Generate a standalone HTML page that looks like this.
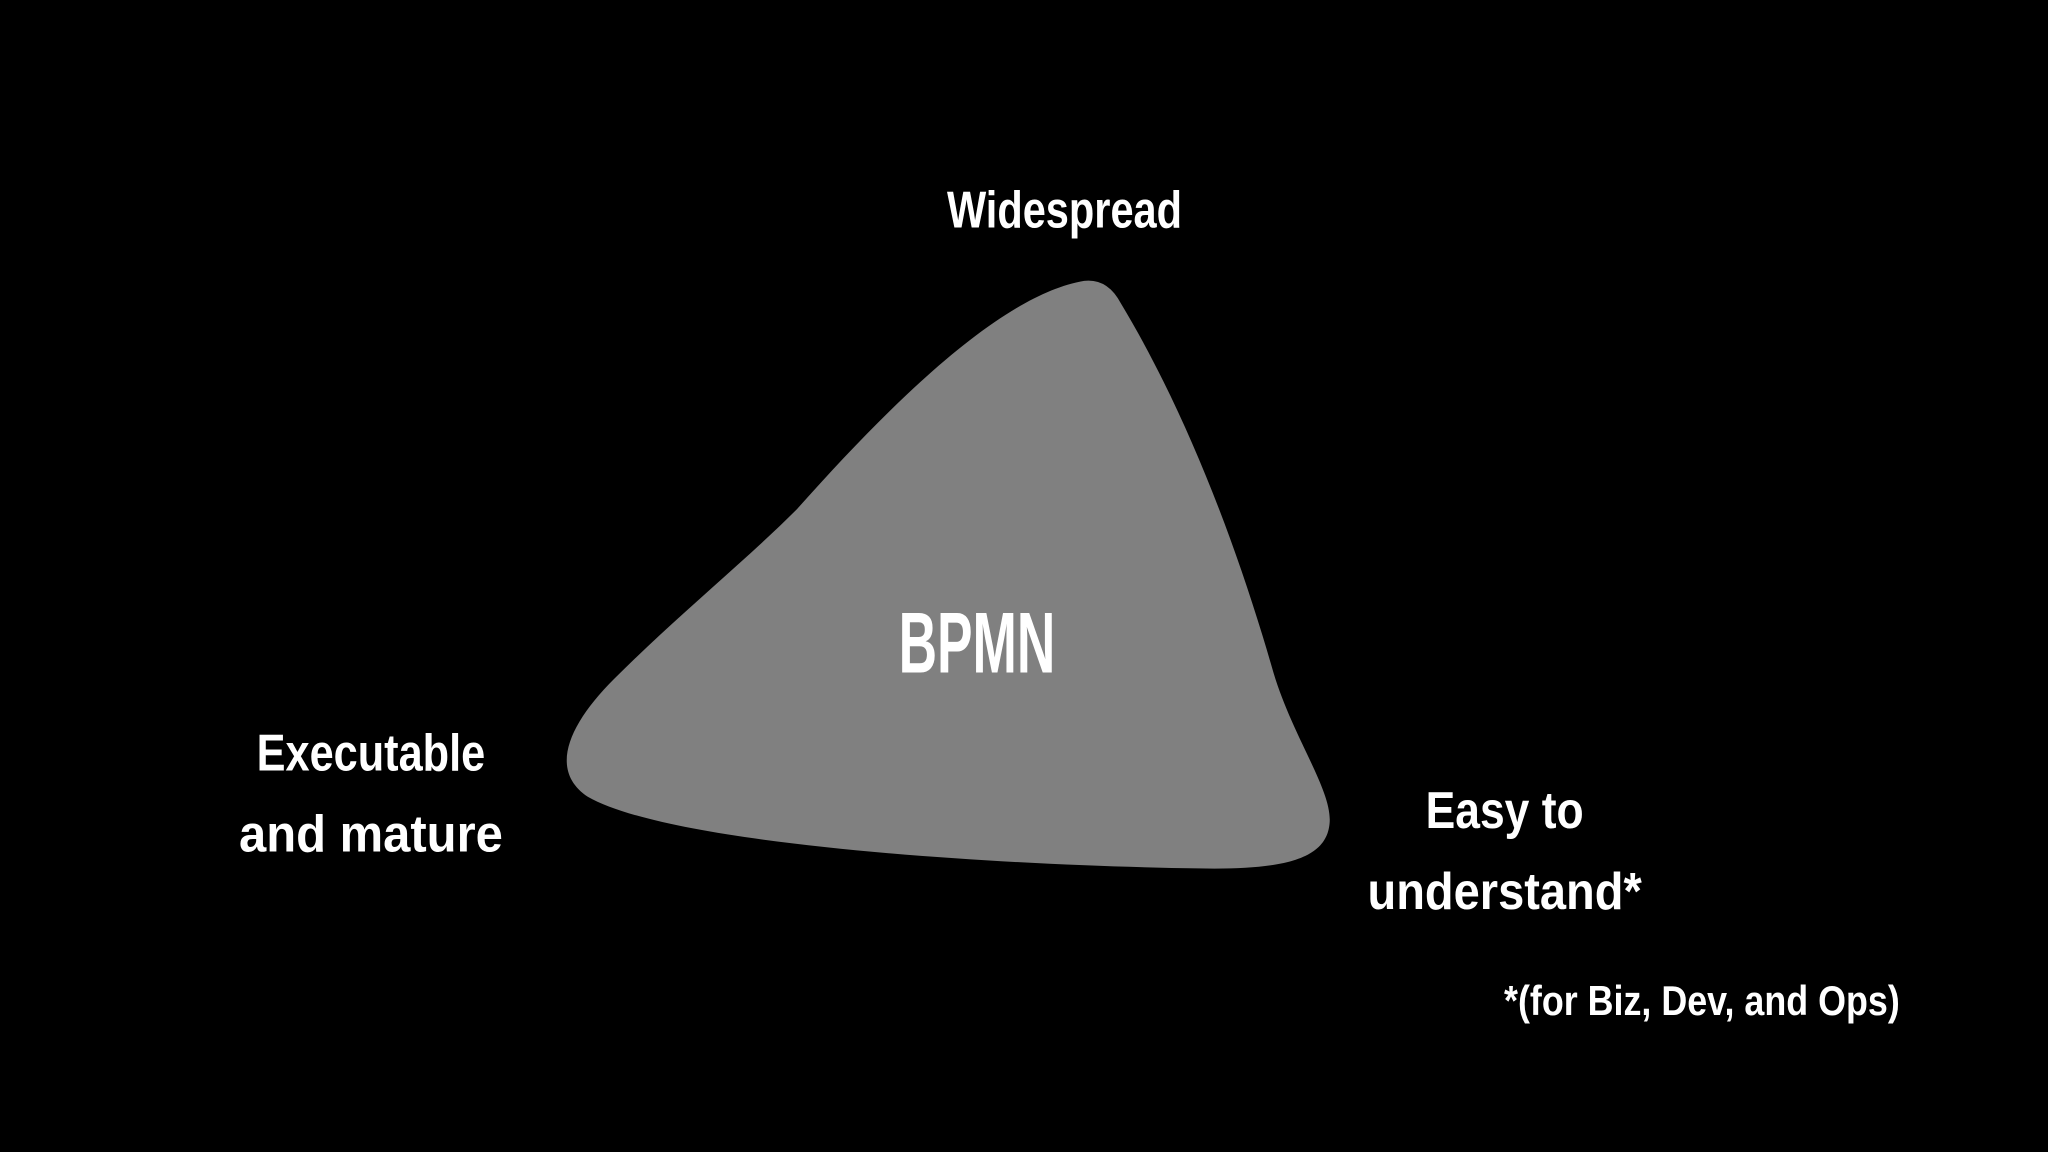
<!DOCTYPE html>
<html><head><meta charset="utf-8"><style>
html,body{margin:0;padding:0;background:#000;width:2048px;height:1152px;overflow:hidden}
svg{display:block}
text{font-family:"Liberation Sans",sans-serif;fill:#fff;font-weight:bold}
</style></head><body>
<svg width="2048" height="1152" viewBox="0 0 1568 882" xmlns="http://www.w3.org/2000/svg">
<rect width="1568" height="882" fill="#000"/>
<path d="M 858,232 C 905,310 945,410 975,515 C 990,565 1020,605 1018,630 C 1016,655 990,665 930,665 C 800,664 520,650 450,610 C 420,590 435,555 470,520 C 520,470 570,430 610,390 C 690,300 770,225 830,215 Q 848,213 858,232 Z" fill="#808080"/>
<text x="815" y="174" font-size="40" text-anchor="middle" textLength="180" lengthAdjust="spacingAndGlyphs">Widespread</text>
<text x="748" y="515" font-size="66" text-anchor="middle" textLength="120" lengthAdjust="spacingAndGlyphs" font-weight="normal">BPMN</text>
<text x="284" y="590" font-size="40" text-anchor="middle" textLength="175" lengthAdjust="spacingAndGlyphs">Executable</text>
<text x="284" y="652" font-size="40" text-anchor="middle" textLength="202" lengthAdjust="spacingAndGlyphs">and mature</text>
<text x="1152" y="634" font-size="40" text-anchor="middle" textLength="121" lengthAdjust="spacingAndGlyphs">Easy to</text>
<text x="1152" y="696" font-size="40" text-anchor="middle" textLength="210" lengthAdjust="spacingAndGlyphs">understand*</text>
<text x="1303" y="777" font-size="32" text-anchor="middle" textLength="303" lengthAdjust="spacingAndGlyphs" font-weight="normal">*(for Biz, Dev, and Ops)</text>
</svg>
</body></html>
